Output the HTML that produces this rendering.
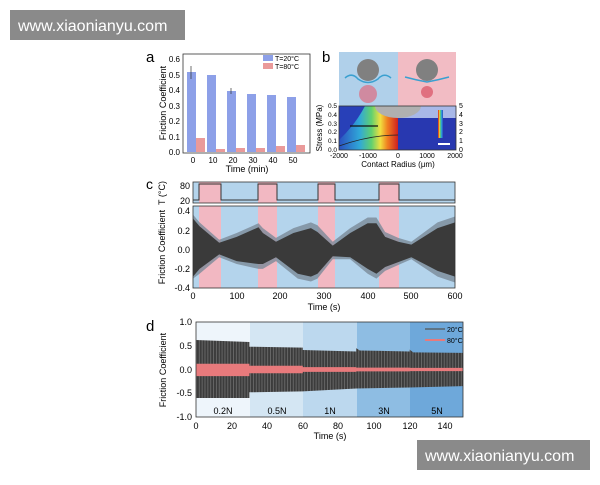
<!DOCTYPE html>
<html><head><meta charset="utf-8"><style>
body{margin:0;background:#fff;width:600px;height:480px;overflow:hidden;font-family:"Liberation Sans",sans-serif}
svg text{font-family:"Liberation Sans",sans-serif}
</style></head><body>
<svg width="600" height="480" viewBox="0 0 600 480" xmlns="http://www.w3.org/2000/svg">
<defs>
<linearGradient id="rb" x1="0" x2="1" y1="0" y2="0">
<stop offset="0" stop-color="#2a50c0"/><stop offset="0.35" stop-color="#30a8d8"/><stop offset="0.55" stop-color="#60d070"/><stop offset="0.7" stop-color="#f0e040"/><stop offset="0.82" stop-color="#f08020"/><stop offset="1" stop-color="#d02020"/>
</linearGradient>
<pattern id="stripes" width="1.6" height="10" patternUnits="userSpaceOnUse"><rect width="1.6" height="10" fill="#3c3c3c"/><rect width="0.5" height="10" fill="#6a6a6a"/></pattern>
</defs>
<!-- watermarks -->
<rect x="10" y="10" width="175" height="30" fill="#8a8a8a"/>
<text x="18" y="31" font-size="16" fill="#fff">www.xiaonianyu.com</text>
<rect x="417" y="440" width="173" height="30" fill="#8a8a8a"/>
<text x="425" y="461" font-size="16" fill="#fff">www.xiaonianyu.com</text>

<!-- Panel a -->
<text x="146" y="62" font-size="15">a</text>
<rect x="183" y="54" width="127" height="99" fill="none" stroke="#333" stroke-width="0.8"/>
<g fill="#8da0e8">
<rect x="187" y="72" width="9" height="80"/><rect x="207" y="75" width="9" height="77"/><rect x="227" y="91" width="9" height="61"/><rect x="247" y="94" width="9" height="58"/><rect x="267" y="95" width="9" height="57"/><rect x="287" y="97" width="9" height="55"/>
</g>
<g fill="#ea9a9a">
<rect x="196" y="138" width="9" height="14"/><rect x="216" y="149" width="9" height="3"/><rect x="236" y="148" width="9" height="4"/><rect x="256" y="148" width="9" height="4"/><rect x="276" y="146" width="9" height="6"/><rect x="296" y="145" width="9" height="7"/>
</g>
<g stroke="#333" stroke-width="0.7"><line x1="191" y1="66" x2="191" y2="79"/><line x1="231" y1="88" x2="231" y2="94"/></g>
<g font-size="8" text-anchor="end"><text x="180" y="155">0.0</text><text x="180" y="140">0.1</text><text x="180" y="124">0.2</text><text x="180" y="109">0.3</text><text x="180" y="93">0.4</text><text x="180" y="78">0.5</text><text x="180" y="62">0.6</text></g>
<g font-size="8" text-anchor="middle"><text x="193" y="163">0</text><text x="213" y="163">10</text><text x="233" y="163">20</text><text x="253" y="163">30</text><text x="273" y="163">40</text><text x="293" y="163">50</text></g>
<text x="247" y="172" font-size="9" text-anchor="middle">Time (min)</text>
<text transform="translate(166,103) rotate(-90)" font-size="9" text-anchor="middle">Friction Coefficient</text>
<rect x="263" y="55" width="10" height="6" fill="#8da0e8"/><text x="275" y="61" font-size="7">T=20°C</text>
<rect x="263" y="63" width="10" height="6" fill="#ea9a9a"/><text x="275" y="69" font-size="7">T=80°C</text>

<!-- Panel b -->
<text x="322" y="62" font-size="15">b</text>
<rect x="339" y="52" width="59" height="54" fill="#b0d0ea"/>
<rect x="398" y="52" width="58" height="54" fill="#f2bcc4"/>
<circle cx="368" cy="70" r="11" fill="#808080"/>
<path d="M345 78 Q352 72 358 79 Q368 86 378 79 Q384 72 391 78" stroke="#3aa0d0" stroke-width="1.5" fill="none"/>
<circle cx="368" cy="94" r="9" fill="#d08aa0"/>
<circle cx="427" cy="70" r="11" fill="#808080"/>
<path d="M405 77 Q416 80 427 82 Q438 80 449 77" stroke="#3aa0d0" stroke-width="1.5" fill="none"/>
<circle cx="427" cy="92" r="6" fill="#e07080"/>
<rect x="339" y="106" width="59" height="44" fill="url(#rb)"/>
<path d="M339 106 L365 106 Q355 125 339 140 Z" fill="#2840b8"/>
<rect x="398" y="106" width="58" height="44" fill="#2838b0"/>
<rect x="398" y="106" width="58" height="12" fill="#a8b8e8"/>
<path d="M375 106 A23 12 0 0 0 421 106 Z" fill="#b0b0b0"/>
<path d="M339 146 Q370 135 398 135" stroke="#222" fill="none" stroke-width="0.8"/>
<line x1="378" y1="126" x2="350" y2="126" stroke="#111" stroke-width="1.3"/>
<rect x="438" y="110" width="5" height="28" fill="url(#rb)" transform="rotate(180 440.5 124)"/>
<rect x="438" y="143" width="12" height="2" fill="#fff"/>
<rect x="339" y="106" width="117" height="44" fill="none" stroke="#333" stroke-width="0.8"/>
<g font-size="6.5" text-anchor="end"><text x="337" y="152">0.0</text><text x="337" y="143">0.1</text><text x="337" y="134">0.2</text><text x="337" y="126">0.3</text><text x="337" y="117">0.4</text><text x="337" y="108">0.5</text></g>
<g font-size="7"><text x="459" y="152">0</text><text x="459" y="143">1</text><text x="459" y="134">2</text><text x="459" y="126">3</text><text x="459" y="117">4</text><text x="459" y="108">5</text></g>
<g font-size="7" text-anchor="middle"><text x="339" y="158">-2000</text><text x="368" y="158">-1000</text><text x="398" y="158">0</text><text x="427" y="158">1000</text><text x="455" y="158">2000</text></g>
<text x="398" y="167" font-size="8" text-anchor="middle">Contact Radius (μm)</text>
<text transform="translate(322,128) rotate(-90)" font-size="8" text-anchor="middle">Stress (MPa)</text>

<!-- Panel c -->
<text x="146" y="189" font-size="14">c</text>
<rect x="193" y="182" width="262" height="21" fill="#b4d4ec"/>
<rect x="193" y="206" width="262" height="82" fill="#b4d4ec"/>
<g fill="#f2b8c2">
<rect x="199" y="182" width="22" height="21"/><rect x="258" y="182" width="19" height="21"/><rect x="318" y="182" width="17" height="21"/><rect x="379" y="182" width="20" height="21"/>
<rect x="199" y="206" width="22" height="82"/><rect x="258" y="206" width="19" height="82"/><rect x="318" y="206" width="17" height="82"/><rect x="379" y="206" width="20" height="82"/>
</g>
<polyline points="193,200 199,200 199,184 221,184 221,200 258,200 258,184 277,184 277,200 318,200 318,184 335,184 335,200 379,200 379,184 399,184 399,200 455,200" fill="none" stroke="#333" stroke-width="1"/>
<g transform="translate(193,249.5) scale(0.4367,-97)">
<polygon fill="#7b8a98" opacity="0.8" points="0,0.36 15,0.28 60,0.1 100,0.17 150,0.27 160,0.22 190,0.12 230,0.22 270,0.28 285,0.25 320,0.08 360,0.22 400,0.33 420,0.33 440,0.18 470,0.12 500,0.08 560,0.28 600,0.34 600,-0.34 560,-0.28 500,-0.1 470,-0.16 440,-0.22 420,-0.3 400,-0.25 360,-0.1 320,-0.1 285,-0.3 270,-0.33 240,-0.3 190,-0.12 160,-0.2 150,-0.2 100,-0.15 60,-0.08 15,-0.25 0,-0.3"/>
<polygon fill="#3a3a3a" points="0,0.32 15,0.24 60,0.07 100,0.13 150,0.23 160,0.17 190,0.08 230,0.17 270,0.22 285,0.18 320,0.04 360,0.17 400,0.27 420,0.27 440,0.13 470,0.08 500,0.05 560,0.22 600,0.28 600,-0.28 560,-0.22 500,-0.08 470,-0.13 440,-0.18 420,-0.25 400,-0.2 360,-0.08 320,-0.07 285,-0.25 270,-0.28 240,-0.25 190,-0.08 160,-0.15 150,-0.15 100,-0.12 60,-0.05 15,-0.2 0,-0.28"/>
</g>
<rect x="193" y="182" width="262" height="21" fill="none" stroke="#333" stroke-width="0.8"/>
<rect x="193" y="206" width="262" height="82" fill="none" stroke="#333" stroke-width="0.8"/>
<g font-size="9" text-anchor="end"><text x="190" y="189">80</text><text x="190" y="204">20</text>
<text x="190" y="214">0.4</text><text x="190" y="234">0.2</text><text x="190" y="253">0.0</text><text x="190" y="272">-0.2</text><text x="190" y="291">-0.4</text></g>
<g font-size="9" text-anchor="middle"><text x="193" y="299">0</text><text x="237" y="299">100</text><text x="280" y="299">200</text><text x="324" y="299">300</text><text x="368" y="299">400</text><text x="411" y="299">500</text><text x="455" y="299">600</text></g>
<text x="324" y="310" font-size="9" text-anchor="middle">Time (s)</text>
<text transform="translate(165,247) rotate(-90)" font-size="9" text-anchor="middle">Friction Coefficient</text>
<text transform="translate(165,193) rotate(-90)" font-size="9" text-anchor="middle">T (°C)</text>

<!-- Panel d -->
<text x="146" y="331" font-size="15">d</text>
<rect x="196" y="322" width="54" height="95" fill="#eef5fb"/>
<rect x="250" y="322" width="53" height="95" fill="#d4e6f3"/>
<rect x="303" y="322" width="54" height="95" fill="#bcd8ee"/>
<rect x="357" y="322" width="53" height="95" fill="#8ebde3"/>
<rect x="410" y="322" width="53" height="95" fill="#6ea8da"/>
<g transform="translate(196,369.5) scale(1.78,-47.5)">
<polygon fill="url(#stripes)" points="0,0.62 30,0.58 30,0.48 60,0.46 60,0.41 90,0.38 90,0.45 92,0.4 120,0.38 120,0.42 122,0.36 150,0.35 150,-0.35 120,-0.38 90,-0.4 60,-0.46 30,-0.48 30,-0.6 0,-0.6"/>
<polygon fill="#e87a7c" points="0,0.12 30,0.12 30,0.08 60,0.08 60,0.05 90,0.05 90,0.04 120,0.04 120,0.035 150,0.035 150,-0.035 120,-0.035 120,-0.04 90,-0.04 90,-0.05 60,-0.05 60,-0.08 30,-0.08 30,-0.14 0,-0.14"/>
</g>
<rect x="196" y="322" width="267" height="95" fill="none" stroke="#333" stroke-width="0.8"/>
<line x1="425" y1="329" x2="445" y2="329" stroke="#555" stroke-width="1.2"/><text x="447" y="332" font-size="7">20°C</text>
<line x1="425" y1="340" x2="445" y2="340" stroke="#e87a7c" stroke-width="2"/><text x="447" y="343" font-size="7">80°C</text>
<g font-size="9" text-anchor="middle"><text x="223" y="414">0.2N</text><text x="277" y="414">0.5N</text><text x="330" y="414">1N</text><text x="384" y="414">3N</text><text x="437" y="414">5N</text></g>
<g font-size="9" text-anchor="end"><text x="192" y="325">1.0</text><text x="192" y="349">0.5</text><text x="192" y="373">0.0</text><text x="192" y="396">-0.5</text><text x="192" y="420">-1.0</text></g>
<g font-size="9" text-anchor="middle"><text x="196" y="429">0</text><text x="232" y="429">20</text><text x="267" y="429">40</text><text x="303" y="429">60</text><text x="338" y="429">80</text><text x="374" y="429">100</text><text x="410" y="429">120</text><text x="445" y="429">140</text></g>
<text x="330" y="439" font-size="9" text-anchor="middle">Time (s)</text>
<text transform="translate(166,370) rotate(-90)" font-size="9" text-anchor="middle">Friction Coefficient</text>
</svg>
</body></html>
